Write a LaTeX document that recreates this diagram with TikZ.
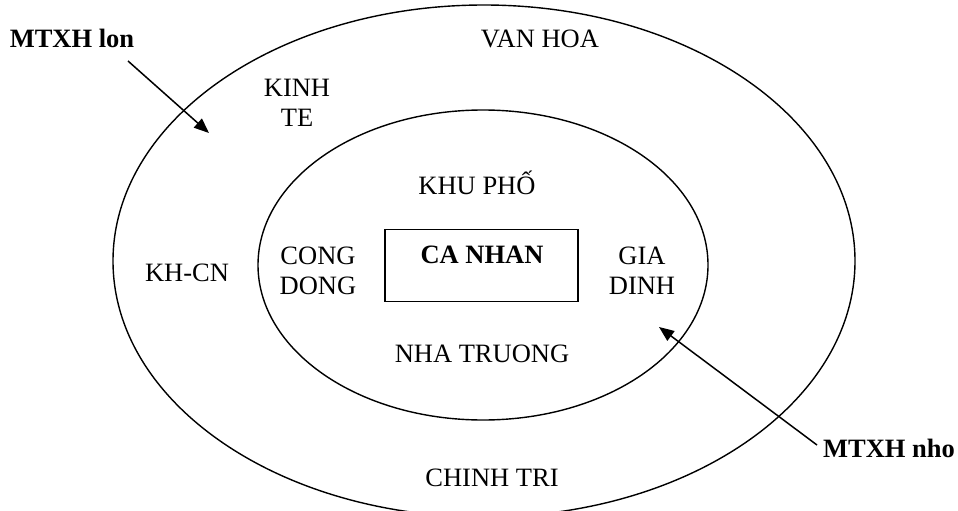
\documentclass[tikz,border=0pt]{standalone}
\usepackage{fontspec}
\setmainfont{Liberation Serif}
\usetikzlibrary{arrows.meta,shapes.geometric}
\begin{document}
\begin{tikzpicture}[x=1pt,y=-1pt,
  ring/.style={draw, line width=1.4pt},
  lbl/.style={font=\fontsize{26.5}{30}\selectfont, inner sep=0pt},
  biglbl/.style={lbl, font=\fontsize{26.5}{30}\selectfont\bfseries},
  twoline/.style={lbl, align=center},
  pointer/.style={line width=1.5pt, -{Triangle[length=15pt,width=12pt]}}]
  \useasboundingbox (0,0) rectangle (958,511);

  % nested rings of the social environment
  \node[ring, ellipse, minimum width=742pt, minimum height=512pt, inner sep=0pt] (outer) at (484,261) {};
  \node[ring, ellipse, minimum width=450pt, minimum height=310pt, inner sep=0pt] (inner) at (483,265) {};
  \node[draw, line width=1.2pt, minimum width=193pt, minimum height=72pt, inner sep=0pt] (box) at (481.5,265.5) {};

  % labels of the outer ring
  \node[lbl, anchor=base] (vanhoa) at (540,48) {VAN HOA};
  \node[twoline] (kinhte) at (297,102.5) {KINH\\TE};
  \node[lbl, anchor=base] (khcn) at (187,281) {KH-CN};
  \node[lbl, anchor=base] (chinhtri) at (492,486) {CHINH TRI};

  % labels of the inner ring
  \node[lbl, anchor=base] (khupho) at (477,194) {KHU PHỐ};
  \node[twoline] (congdong) at (318,271) {CONG\\DONG};
  \node[twoline] (giadinh) at (642,271) {GIA\\DINH};
  \node[lbl, anchor=base] (nhatruong) at (482,362) {NHA TRUONG};
  \node[biglbl, anchor=base] (canhan) at (482,263) {CA NHAN};

  % callouts
  \node[biglbl, anchor=base] (lon) at (72,48) {MTXH lon};
  \node[biglbl, anchor=base] (nho) at (889,457) {MTXH nho};
  \coordinate (lonTail) at (128,61);
  \coordinate (lonTip) at (209,133);
  \coordinate (nhoTail) at (817,445);
  \coordinate (nhoTip) at (659,327);
  \draw[pointer] (lonTail) -- (lonTip);
  \draw[pointer] (nhoTail) -- (nhoTip);
\end{tikzpicture}
\end{document}
